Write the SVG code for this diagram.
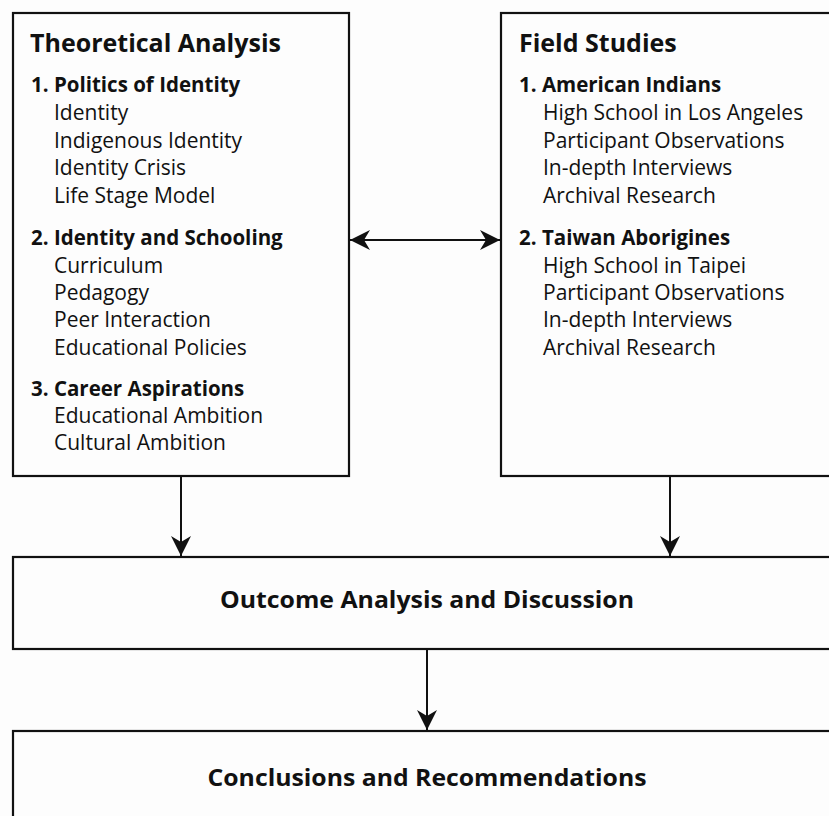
<svg xmlns="http://www.w3.org/2000/svg" width="829" height="816" viewBox="0 0 829 816">
<defs>
<marker id="ah" viewBox="0 0 20 20" refX="20" refY="10" markerWidth="20" markerHeight="20" markerUnits="userSpaceOnUse" orient="auto-start-reverse">
<path d="M0,0 L20,10 L0,20 L6,10 Z" fill="#111"/>
</marker>
<style>
.box{fill:none;stroke:#111;stroke-width:2.2}
.con{stroke:#111;stroke-width:2;fill:none}
text{font-family:"Open Sans","Liberation Sans",sans-serif;fill:#111}
.t{font-size:25px;font-weight:bold}
.h{font-size:20.5px;font-weight:bold}
.i{font-size:21px}
.c{font-size:24px;font-weight:bold;text-anchor:middle}
</style>
</defs>
<rect width="829" height="816" fill="#fdfdfd"/>
<g id="theoretical">
<rect class="box" x="13" y="13" width="336" height="463"/>
<text class="t" x="30" y="52">Theoretical Analysis</text>
<text class="h" x="31" y="92">1. Politics of Identity</text>
<text class="i" x="54" y="120">Identity</text>
<text class="i" x="54" y="148">Indigenous Identity</text>
<text class="i" x="54" y="175">Identity Crisis</text>
<text class="i" x="54" y="203">Life Stage Model</text>
<text class="h" x="31" y="245">2. Identity and Schooling</text>
<text class="i" x="54" y="273">Curriculum</text>
<text class="i" x="54" y="300">Pedagogy</text>
<text class="i" x="54" y="327">Peer Interaction</text>
<text class="i" x="54" y="355">Educational Policies</text>
<text class="h" x="31" y="396">3. Career Aspirations</text>
<text class="i" x="54" y="423">Educational Ambition</text>
<text class="i" x="54" y="450">Cultural Ambition</text>
</g>
<g id="field">
<rect class="box" x="501" y="13" width="340" height="463"/>
<text class="t" x="519" y="52">Field Studies</text>
<text class="h" x="519" y="92">1. American Indians</text>
<text class="i" x="543" y="120">High School in Los Angeles</text>
<text class="i" x="543" y="148">Participant Observations</text>
<text class="i" x="543" y="175">In-depth Interviews</text>
<text class="i" x="543" y="203">Archival Research</text>
<text class="h" x="519" y="245">2. Taiwan Aborigines</text>
<text class="i" x="543" y="273">High School in Taipei</text>
<text class="i" x="543" y="300">Participant Observations</text>
<text class="i" x="543" y="327">In-depth Interviews</text>
<text class="i" x="543" y="355">Archival Research</text>
</g>
<g id="outcome">
<rect class="box" x="13" y="557" width="828" height="92"/>
<text class="c" x="427" y="608" textLength="414" lengthAdjust="spacingAndGlyphs">Outcome Analysis and Discussion</text>
</g>
<g id="conclusions">
<rect class="box" x="13" y="731" width="828" height="100"/>
<text class="c" x="427" y="786" textLength="439" lengthAdjust="spacingAndGlyphs">Conclusions and Recommendations</text>
</g>
<g id="connectors">
<line class="con" x1="350" y1="240" x2="500" y2="240" marker-start="url(#ah)" marker-end="url(#ah)"/>
<line class="con" x1="181" y1="477" x2="181" y2="556" marker-end="url(#ah)"/>
<line class="con" x1="670" y1="477" x2="670" y2="556" marker-end="url(#ah)"/>
<line class="con" x1="427" y1="650" x2="427" y2="730" marker-end="url(#ah)"/>
</g>
</svg>
